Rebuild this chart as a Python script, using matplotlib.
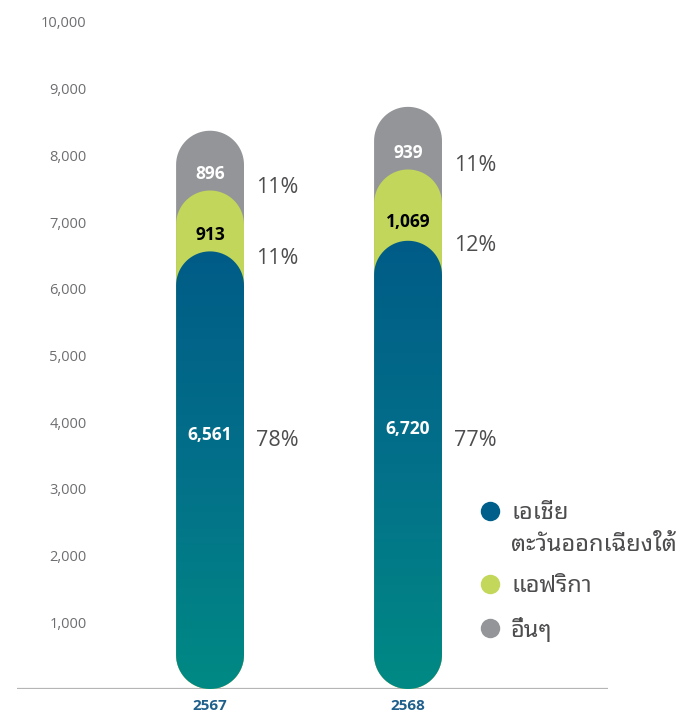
import numpy as np
import matplotlib
matplotlib.use("Agg")
import matplotlib.pyplot as plt
from matplotlib.path import Path
from matplotlib.patches import PathPatch
from matplotlib.colors import LinearSegmentedColormap
from matplotlib.lines import Line2D

FONT = ["Open Sans", "Noto Sans Thai Looped", "DejaVu Sans"]
plt.rcParams["font.family"] = FONT

# data
years = ["2567", "2568"]
asia = [6561, 6720]
africa = [913, 1069]
other = [896, 939]
pct_asia = ["78%", "77%"]
pct_africa = ["11%", "12%"]
pct_other = ["11%", "11%"]
legend_labels = ["เอเชีย\nตะวันออกเฉียงใต้", "แอฟริกา", "อื่นๆ"]
yticks = [1000, 2000, 3000, 4000, 5000, 6000, 7000, 8000, 9000, 10000]

c_blue = "#005F8A"
c_green = "#C1D65A"
c_gray = "#939598"
c_text = "#4D4D4F"

W, H = 680, 715
fig = plt.figure(figsize=(W / 100, H / 100), dpi=100)
# axes box in pixels: left 17, right 608, bottom (y=0) at 689, top (10000) at 22
ax = fig.add_axes([17 / W, 1 - 689 / H, (608 - 17) / W, (689 - 22) / H])
ax.set_ylim(0, 10000)
ax.set_xlim(-0.975, 2.01)
for s in ax.spines.values():
    s.set_visible(False)
ax.set_xticks([])
ax.set_yticks(yticks)
ax.set_yticklabels([f"{v:,}" for v in yticks], fontsize=10.5, color="#6D6E71")
ax.tick_params(axis="y", length=0, pad=-50)
ax.axhline(0, color="#B5B5B5", lw=1.6, zorder=1)

bw = 0.343
px_per_unit_y = (689 - 22) / 10000.0
ry = 34 / px_per_unit_y  # cap radius in data units


def pill(xc, top):
    t1 = np.linspace(np.pi, 2 * np.pi, 40)
    t2 = np.linspace(0, np.pi, 40)
    xs = np.concatenate([xc + bw / 2 * np.cos(t1), xc + bw / 2 * np.cos(t2)])
    ys = np.concatenate([ry + ry * np.sin(t1), top - ry + ry * np.sin(t2)])
    return Path(np.column_stack([xs, ys]), closed=False)


cmap = LinearSegmentedColormap.from_list("g", ["#008A84", "#03708A", "#005C87"])

for i in range(len(years)):
    a, f, o = asia[i], africa[i], other[i]
    ax.add_patch(PathPatch(pill(i, a + f + o), fc=c_gray, ec="none", zorder=2))
    ax.add_patch(PathPatch(pill(i, a + f), fc=c_green, ec="none", zorder=3))
    bp = PathPatch(pill(i, a), fc="none", ec="none", zorder=4)
    ax.add_patch(bp)
    grad = np.linspace(0, 1, 256).reshape(-1, 1)
    im = ax.imshow(grad, cmap=cmap, origin="lower", aspect="auto",
                   extent=[i - bw / 2, i + bw / 2, 0, a], zorder=4)
    im.set_clip_path(bp)

    # value labels inside bars
    ax.text(i, a * 0.58, f"{a:,}", ha="center", va="center", fontsize=12.5,
            fontweight="bold", color="white", zorder=6)
    ax.text(i, a + f * 0.27, f"{f:,}", ha="center", va="center", fontsize=12.5,
            fontweight="bold", color="black", zorder=6)
    ax.text(i, a + f + o * 0.27, f"{o:,}", ha="center", va="center", fontsize=12.5,
            fontweight="bold", color="white", zorder=6)

    # percentage labels to the right
    xp = i + bw / 2 + 0.06
    ax.text(xp, 3720, pct_asia[i], ha="left", va="center", fontsize=15.5, color=c_text)
    ax.text(xp, a + f * 0.27 - 360, pct_africa[i], ha="left", va="center", fontsize=15.5, color=c_text)
    ax.text(xp, a + f + o * 0.27 - 190, pct_other[i], ha="left", va="center", fontsize=15.5, color=c_text)

    ax.text(i, -255, years[i], ha="center", va="center", fontsize=11,
            fontweight="bold", color="#1F5F8B")

# legend drawn by hand
leg_colors = [c_blue, "#C3D75B", c_gray]
leg_y = [511, 584, 628]
for lab, col, yp in zip(legend_labels, leg_colors, leg_y):
    fig.add_artist(Line2D([490 / W], [1 - yp / H], marker="o", ms=14, mfc=col,
                          mec="none", ls="none", transform=fig.transFigure))
    for k, line in enumerate(lab.split("\n")):
        fig.text(511 / W, 1 - (yp + 2 + 32 * k) / H, line, ha="left", va="center",
                 fontsize=17, color=c_text)

fig.savefig("out.png", dpi=100)
